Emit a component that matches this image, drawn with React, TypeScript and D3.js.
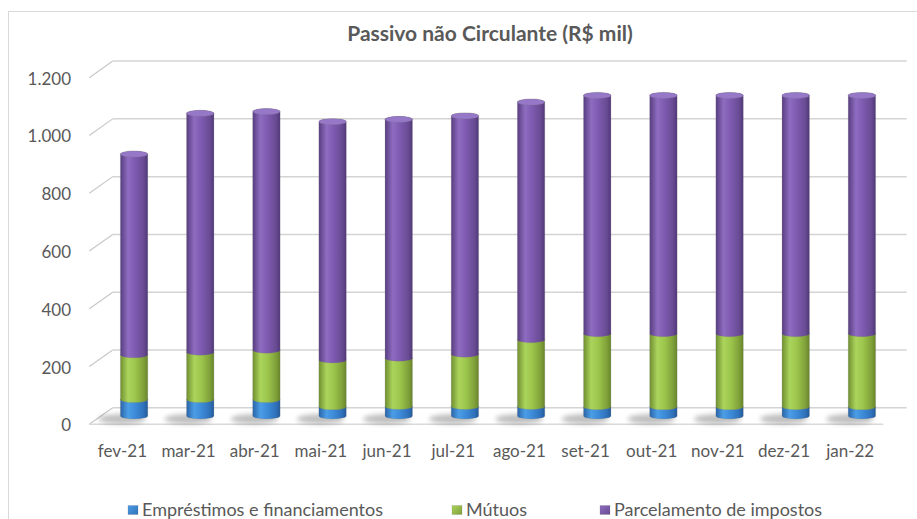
import React from "react";
import * as d3 from "d3";

const categories = ["fev-21","mar-21","abr-21","mai-21","jun-21","jul-21","ago-21","set-21","out-21","nov-21","dez-21","jan-22"];
const emprestimos = [57,57,57,32,33,33,33,32,32,32,32,32];
const mutuos = [155,164,171,162,167,181,231,253,253,253,253,253];
const parcelamento = [695,827,826,825,827,825,823,825,825,825,825,825];
const seriesKeys = ["emp","mut","par"];
const seriesNames = ["Empréstimos e financiamentos","Mútuos","Parcelamento de impostos"];
const yTicks = [0,200,400,600,800,1000,1200];
const title = "Passivo não Circulante (R$ mil)";

const W = 917, H = 519;
const FL = 89.3, FR = 883.3, F0 = 424.3, F1200 = 77.7;
const DX = 23.4, DY = -16.6;
const FONT = "Lato, 'Open Sans', sans-serif";
const TXT = "#595959";

const grads = [
  { id: "gEmp", stops: ["#2a64a6","#4b9de6","#3c8ad8","#2f71ba","#245a98"], cap: "#5aa6ea" },
  { id: "gMut", stops: ["#708f30","#abd45c","#9bc54b","#80a03a","#67852a"], cap: "#b5dc6a" },
  { id: "gPar", stops: ["#583d80","#8e6cc0","#7d5aaf","#684b93","#523778"], cap: "#9677c8" },
];

export default function App() {
  const table = categories.map((c, i) => ({ cat: c, emp: emprestimos[i], mut: mutuos[i], par: parcelamento[i] }));
  const stacked = d3.stack<any>().keys(seriesKeys)(table);
  const x = d3.scaleBand().domain(categories).range([FL, FR]).paddingInner(0.586).paddingOuter(0.293);
  const yFront = d3.scaleLinear().domain([0, 1200]).range([F0, F1200]);
  const fmt = d3.formatLocale({ decimal: ",", thousands: ".", grouping: [3], currency: ["R$", ""] }).format(",");
  const rx = x.bandwidth() / 2;
  const ry = 3;
  const yMid = (v: number) => yFront(v) + DY / 2;
  const cx = (c: string) => (x(c) as number) + rx + DX / 2;
  const xLabel = (c: string) => (x(c) as number) + rx;

  const segPath = (c: string, v0: number, v1: number) => {
    const xl = cx(c) - rx, xr = cx(c) + rx;
    const y0 = yMid(v0), y1 = yMid(v1);
    return `M${xl},${y1} L${xl},${y0} A${rx},${ry} 0 0 0 ${xr},${y0} L${xr},${y1} A${rx},${ry} 0 0 0 ${xl},${y1} Z`;
  };

  const legendItems = [
    { mx: 128, tx: 142 },
    { mx: 452, tx: 466 },
    { mx: 600, tx: 614 },
  ];

  return (
    <svg width={W} height={H} style={{ position: "absolute", left: 0, top: 0, background: "#fff" }}>
      <defs>
        {grads.map((g) => (
          <linearGradient key={g.id} id={g.id} x1="0" x2="1" y1="0" y2="0">
            <stop offset="0%" stopColor={g.stops[0]} />
            <stop offset="28%" stopColor={g.stops[1]} />
            <stop offset="55%" stopColor={g.stops[2]} />
            <stop offset="85%" stopColor={g.stops[3]} />
            <stop offset="100%" stopColor={g.stops[4]} />
          </linearGradient>
        ))}
        {grads.map((g) => (
          <linearGradient key={g.id + "L"} id={g.id + "L"} x1="0" x2="1" y1="0" y2="1">
            <stop offset="0%" stopColor={g.stops[1]} />
            <stop offset="100%" stopColor={g.stops[3]} />
          </linearGradient>
        ))}
        <filter id="blur" x="-50%" y="-100%" width="200%" height="300%">
          <feGaussianBlur stdDeviation="2.5" />
        </filter>
      </defs>
      <rect x={8.5} y={11.5} width={1000} height={1000} fill="#fff" stroke="#d9d9d9" strokeWidth={1} />
      <text x={490} y={41} textAnchor="middle" fontFamily={FONT} fontWeight="bold" fontSize={21} fill={TXT}>{title}</text>

      {yTicks.map((t) => (
        <g key={t}>
          <line x1={FL + DX} x2={FR + DX} y1={yFront(t) + DY} y2={yFront(t) + DY} stroke="#d4d4d4" strokeWidth={1.5} />
          <line x1={FL} x2={FL + DX} y1={yFront(t)} y2={yFront(t) + DY} stroke="#c8c8c8" strokeWidth={1.2} />
          <text x={71} y={yFront(t) + 7} textAnchor="end" fontFamily={FONT} fontSize={17} fill={TXT}>{fmt(t)}</text>
        </g>
      ))}
      <line x1={FL} x2={FR} y1={F0} y2={F0} stroke="#d9d9d9" strokeWidth={1.5} />

      {categories.map((c) => (
        <ellipse key={c} cx={cx(c) - 12} cy={yMid(0) + 3} rx={rx + 10} ry={5} fill="#000" opacity={0.25} filter="url(#blur)" />
      ))}

      {categories.map((c, i) => {
        const topV = stacked[stacked.length - 1][i][1];
        return (
          <g key={c}>
            {stacked.map((s, k) => (
              <path key={k} d={segPath(c, s[i][0], s[i][1])} fill={`url(#${grads[k].id})`} stroke="rgba(120,120,120,0.35)" strokeWidth={0.6} />
            ))}
            <ellipse cx={cx(c)} cy={yMid(topV)} rx={rx} ry={ry} fill={grads[2].cap} stroke="rgba(120,120,120,0.35)" strokeWidth={0.6} />
          </g>
        );
      })}

      {categories.map((c) => (
        <text key={c} x={xLabel(c)} y={456.5} textAnchor="middle" fontFamily={FONT} fontSize={17} fill={TXT}>{c}</text>
      ))}

      {seriesNames.map((n, k) => (
        <g key={n}>
          <rect x={legendItems[k].mx} y={505.5} width={10} height={9} fill={`url(#${grads[k].id}L)`} stroke="rgba(100,100,100,0.4)" strokeWidth={0.5} />
          <text x={legendItems[k].tx} y={516} fontFamily={FONT} fontSize={18} fill={TXT}>{n}</text>
        </g>
      ))}
    </svg>
  );
}
